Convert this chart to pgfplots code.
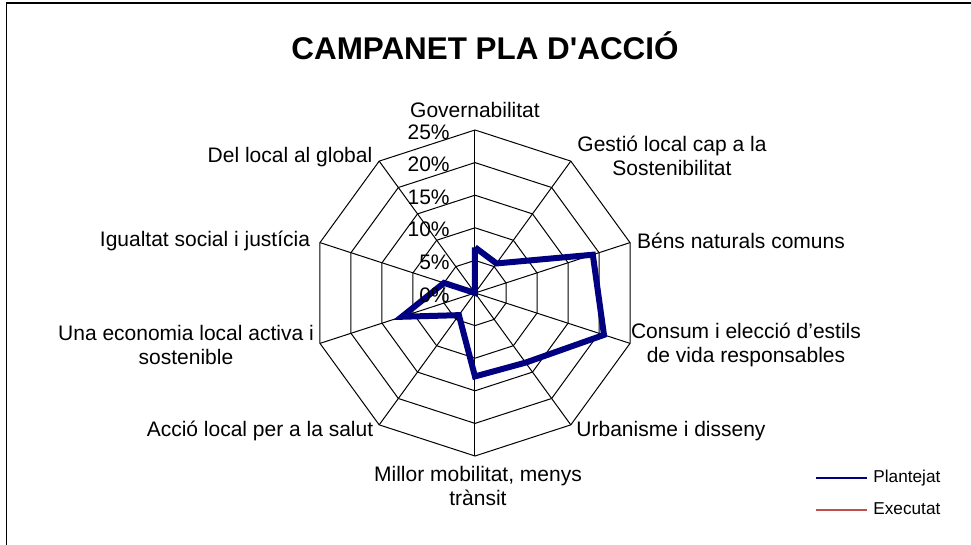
\documentclass[border=0pt]{standalone}
\usepackage{pgfplots}
\usepackage{pgfplotstable}
\pgfplotsset{compat=1.18}
\usepackage{fontspec}
\setmainfont{Liberation Sans}
\definecolor{navyline}{RGB}{0,0,128}
\definecolor{redline}{RGB}{192,80,77}

\pgfplotstableread{
ang val
0 7
36 5.6
72 19
108 20.8
144 13.2
180 12.8
216 4.2
252 11.8
288 5.0
324 0
360 7
}\plantejat

\pgfplotstableread{
ang val
0 0
36 0
72 0
108 0
144 0
180 0
216 0
252 0
288 0
324 0
360 0
}\executat

\begin{document}
\begin{tikzpicture}
\useasboundingbox (-237.5pt,-126pt) rectangle (248pt,146.5pt);
\begin{axis}[
  anchor=origin, at={(0pt,0pt)},
  x=3.26pt, y=3.26pt,
  xmin=-25, xmax=25, ymin=-25, ymax=25,
  hide axis, clip=false,
  legend style={draw=none, fill=none, inner sep=0pt, row sep=5.5pt,
    font=\fontsize{8.6pt}{10pt}\selectfont,
    at={(axis cs:52.15,-30.9)}, anchor=west,
    nodes={inner sep=1pt, text height=6.5pt, text depth=2pt},
    /tikz/every odd column/.append style={column sep=1.5pt}},
  legend cell align=left,
  reverse legend,
  legend image code/.code={\draw[#1, line width=1pt] (0pt,0pt) -- (25.5pt,0pt);},
]
% grid rings
\pgfplotsinvokeforeach{5,10,15,20,25}{
  \addplot[black, line width=0.5pt, samples at={0,36,...,360}, variable=\t, forget plot] ({#1*sin(t)},{#1*cos(t)});
}
% spokes
\pgfplotsinvokeforeach{0,36,...,324}{
  \addplot[black, line width=0.5pt, forget plot] coordinates {(0,0) ({25*sin(#1)},{25*cos(#1)})};
}
\addplot[redline, line width=1pt] table[x expr={\thisrow{val}*sin(\thisrow{ang})}, y expr={\thisrow{val}*cos(\thisrow{ang})}] {\executat};
\addlegendentry{Executat}
\addplot[navyline, line width=3pt] table[x expr={\thisrow{val}*sin(\thisrow{ang})}, y expr={\thisrow{val}*cos(\thisrow{ang})}] {\plantejat};
\addlegendentry{Plantejat}
% radial tick labels
\pgfplotsinvokeforeach{0,5,10,15,20,25}{
  \node[anchor=east, inner sep=0pt, font=\fontsize{10.5pt}{12pt}\selectfont] at (axis cs:-3.83,{#1-0.3}) {#1\%};
}
\end{axis}
% frame
\draw[line width=0.65pt] (-234.25pt,-140pt) -- (-234.25pt,145pt) -- (260pt,145pt);
% title
\node[font=\fontsize{15.7pt}{18pt}\selectfont\bfseries] at (5pt,123.5pt) {CAMPANET PLA D\textquotesingle ACCIÓ};
% category labels
\begin{scope}[every node/.style={align=center, inner sep=0pt, font=\fontsize{10.5pt}{12pt}\selectfont}]
\node at (0pt,91.5pt) {Governabilitat};
\node at (98.5pt,68.5pt) {Gestió local cap a la\\Sostenibilitat};
\node at (133pt,26pt) {Béns naturals comuns};
\node at (135.5pt,-26pt) {Consum i elecció d’estils\\de vida responsables};
\node at (98pt,-69pt) {Urbanisme i disseny};
\node at (1.5pt,-96.5pt) {Millor mobilitat, menys\\trànsit};
\node at (-107.5pt,-69pt) {Acció local per a la salut};
\node at (-144.5pt,-26pt) {Una economia local activa i\\sostenible};
\node at (-135pt,26pt) {Igualtat social i justícia};
\node at (-92.5pt,68pt) {Del local al global};
\end{scope}
\end{tikzpicture}
\end{document}
